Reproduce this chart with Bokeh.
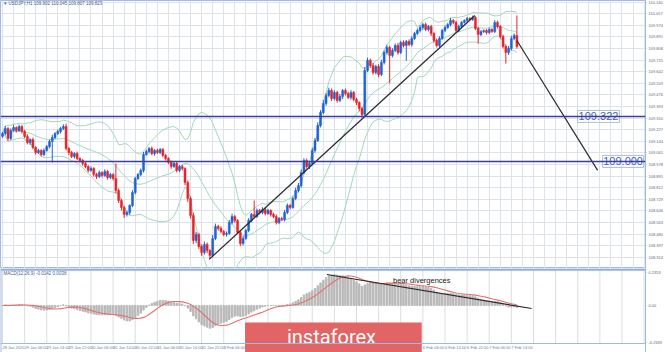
import numpy as np
import pandas as pd
from bokeh.plotting import figure
from bokeh.layouts import column
from bokeh.models import Range1d, FixedTicker, Span, Label, NumeralTickFormatter, ColumnDataSource
from bokeh.core.properties import value
from bokeh.embed import file_html
from bokeh.resources import INLINE

# ---------------- data (USDJPY, H1) ----------------
first_open = 109.180
closes = [
    109.200, 109.236, 109.165, 109.222, 109.243, 109.222, 109.250, 109.215, 109.179, 109.136,
    109.157, 109.100, 109.064, 109.079, 109.050, 109.079, 109.107, 109.143, 109.172, 109.200,
    109.215, 109.236, 109.250, 109.093, 109.064, 109.036, 109.057, 109.021, 109.007, 108.986,
    108.964, 108.936, 108.950, 108.907, 108.893, 108.921, 108.900, 108.928, 108.886, 108.907,
    108.878, 108.792, 108.721, 108.671, 108.621, 108.635, 108.685, 108.778, 108.878, 108.907,
    108.936, 109.050, 109.072, 109.093, 109.057, 109.079, 109.064, 109.086, 109.043, 109.021,
    108.993, 108.964, 108.986, 108.936, 108.964, 108.950, 108.850, 108.735, 108.614, 108.435,
    108.478, 108.392, 108.349, 108.406, 108.363, 108.327, 108.449, 108.535, 108.521, 108.499,
    108.478, 108.485, 108.563, 108.606, 108.578, 108.492, 108.413, 108.449, 108.506, 108.578,
    108.621, 108.606, 108.649, 108.635, 108.657, 108.628, 108.649, 108.621, 108.606, 108.563,
    108.592, 108.585, 108.635, 108.685, 108.671, 108.735, 108.792, 108.828, 108.921, 109.007,
    108.964, 108.986, 109.079, 109.150, 109.258, 109.351, 109.415, 109.472, 109.508, 109.451,
    109.494, 109.437, 109.465, 109.508, 109.487, 109.458, 109.494, 109.444, 109.422, 109.379,
    109.336, 109.651, 109.723, 109.687, 109.637, 109.680, 109.623, 109.708, 109.780, 109.816,
    109.759, 109.794, 109.830, 109.780, 109.852, 109.830, 109.859, 109.837, 109.880, 109.916,
    109.937, 109.959, 109.980, 109.945, 109.966, 109.916, 109.866, 109.830, 109.880, 109.937,
    109.959, 109.980, 110.009, 109.995, 109.937, 109.966, 109.995, 110.009, 110.023, 110.016,
    110.030, 109.952, 109.909, 109.930, 109.937, 109.923, 109.945, 109.930, 109.995, 109.966,
    109.895, 109.823, 109.780, 109.809, 109.880, 109.902, 109.823,
]
# wick lengths in thousandths of a yen
wick_up = [
    12, 18, 10, 15, 20, 8, 14, 10, 12, 16,
    9, 14, 10, 12, 8, 15, 11, 13, 18, 10,
    14, 12, 16, 21, 10, 12, 9, 14, 8, 11,
    13, 9, 15, 10, 12, 14, 8, 16, 10, 12,
    9, 108, 15, 12, 10, 14, 8, 16, 12, 10,
    14, 18, 12, 10, 15, 9, 13, 11, 10, 12,
    9, 14, 11, 15, 10, 12, 8, 14, 16, 20,
    18, 12, 15, 22, 14, 10, 25, 20, 12, 15,
    10, 14, 18, 20, 12, 9, 14, 18, 12, 16,
    10, 100, 14, 12, 16, 10, 13, 9, 12, 15,
    10, 12, 18, 14, 10, 15, 20, 18, 22, 16,
    14, 12, 20, 18, 22, 16, 25, 18, 20, 14,
    16, 12, 18, 10, 14, 12, 16, 10, 12, 9,
    12, 25, 20, 14, 18, 12, 16, 20, 15, 18,
    12, 16, 14, 18, 12, 15, 10, 14, 16, 12,
    15, 18, 12, 14, 10, 12, 9, 14, 16, 12,
    15, 12, 18, 10, 12, 14, 10, 8, 12, 10,
    14, 10, 12, 9, 8, 10, 12, 9, 16, 12,
    10, 12, 15, 18, 20, 14, 143,
]
wick_dn = [
    10, 14, 18, 12, 9, 15, 11, 16, 12, 14,
    18, 12, 15, 10, 14, 12, 9, 13, 150, 12,
    10, 15, 12, 14, 18, 12, 15, 10, 14, 16,
    12, 14, 10, 15, 18, 12, 14, 10, 16, 12,
    14, 20, 18, 22, 25, 15, 18, 12, 14, 10,
    12, 15, 10, 14, 12, 16, 10, 12, 14, 15,
    12, 16, 10, 14, 12, 15, 20, 24, 22, 25,
    20, 18, 24, 16, 20, 22, 14, 12, 16, 14,
    12, 15, 10, 14, 16, 12, 18, 14, 10, 12,
    14, 12, 10, 15, 12, 14, 10, 16, 12, 14,
    12, 10, 14, 12, 15, 10, 12, 14, 16, 12,
    14, 18, 12, 16, 10, 14, 12, 16, 12, 18,
    14, 16, 12, 18, 14, 12, 16, 14, 18, 20,
    22, 14, 12, 18, 16, 14, 20, 12, 14, 16,
    200, 14, 12, 16, 12, 14, 110, 12, 14, 10,
    12, 14, 16, 12, 14, 18, 16, 14, 12, 10,
    12, 10, 14, 12, 16, 10, 12, 8, 10, 9,
    10, 12, 65, 12, 10, 14, 12, 10, 12, 14,
    16, 14, 79, 18, 14, 12, 16,
]
date_labels = [
    "28 Jan 2020", "29 Jan 06:00", "29 Jan 14:00", "29 Jan 22:00", "30 Jan 06:00",
    "30 Jan 14:00", "30 Jan 22:00", "31 Jan 06:00", "31 Jan 14:00", "31 Jan 22:00",
    "3 Feb 06:00", "3 Feb 14:00", "3 Feb 22:00", "4 Feb 06:00", "4 Feb 14:00",
    "4 Feb 22:00", "5 Feb 06:00", "5 Feb 14:00", "5 Feb 22:00", "6 Feb 06:00",
    "6 Feb 14:00", "6 Feb 22:00", "7 Feb 06:00", "7 Feb 14:00",
]
date_label_bars = list(range(0, 8 * len(date_labels), 8))
price_ticks = [
    110.140, 110.057, 109.974, 109.891, 109.808, 109.725, 109.642, 109.559, 109.476,
    109.393, 109.310, 109.227, 109.144, 109.061, 108.978, 108.895, 108.812, 108.729,
    108.646, 108.563, 108.480, 108.397, 108.314,
]
level_1 = 109.322
level_2 = 109.000
trend_x = [74.7, 170.8]
trend_y = [108.299, 110.045]
proj_x = [186.0, 215.2]
proj_y = [109.866, 108.936]

# ---------------- derived series ----------------
n = len(closes)
idx = np.arange(n)
c = np.array(closes)
o = np.concatenate([[first_open], c[:-1]])
hi = np.maximum(o, c) + np.array(wick_up) / 1000.0
lo = np.minimum(o, c) - np.array(wick_dn) / 1000.0
BLUE, RED = "#1f63d3", "#e4252b"
colors = [BLUE if cc >= oo else RED for oo, cc in zip(o, c)]
src = ColumnDataSource(dict(x=idx, o=o, c=c, hi=hi, lo=lo, top=np.maximum(o, c),
                            bot=np.minimum(o, c), col=colors))

s = pd.Series(c)
bb_mid = s.rolling(20, min_periods=1).mean()
bb_sd = s.rolling(20, min_periods=1).std(ddof=0)
bb_up = bb_mid + 2 * bb_sd
bb_lo = bb_mid - 2 * bb_sd

macd = s.ewm(span=12, adjust=False).mean() - s.ewm(span=26, adjust=False).mean()
signal = macd.rolling(9, min_periods=1).mean()
k = max(macd.max() / 31.0, -macd.min() / 38.0)  # MACD units per pixel

# ---------------- main panel ----------------
xr = Range1d(-0.72, 232.5)
FONT = "Liberation Sans"
GRID = "#dde3ec"
p1 = figure(width=665, height=268, x_range=xr, y_range=Range1d(108.234, 110.152),
            output_backend="svg", toolbar_location=None, y_axis_location="right",
            min_border_left=0, min_border_right=19, min_border_top=0, min_border_bottom=0)
p1.outline_line_color = "#9dbbe0"
p1.xaxis.visible = False
p1.xgrid.ticker = FixedTicker(ticks=list(range(0, 236, 4)))
p1.xgrid.grid_line_color = GRID
p1.ygrid.grid_line_color = GRID
ya = p1.yaxis[0]
ya.ticker = FixedTicker(ticks=price_ticks)
ya.formatter = NumeralTickFormatter(format="0.000")
ya.major_label_text_font_size = "4px"
ya.major_label_text_font = FONT
ya.major_label_text_color = "#5a6a84"
ya.axis_line_color = "#9dbbe0"
ya.major_tick_line_color = "#9dbbe0"
ya.major_tick_out = 1
ya.major_tick_in = 0
ya.minor_tick_line_color = None
ya.major_label_standoff = 2

BB = "#a3d7b6"
p1.line(idx, bb_up, color=BB, line_width=1)
p1.line(idx, bb_mid, color=BB, line_width=1)
p1.line(idx, bb_lo, color=BB, line_width=1)

for lv in (level_1, level_2):
    p1.add_layout(Span(location=lv, dimension="width", line_color="#3b3f96", line_width=1.5))

p1.segment("x", "hi", "x", "lo", source=src, color="col", line_width=1)
p1.vbar(x="x", width=0.72, top="top", bottom="bot", source=src, fill_color="col", line_color="col", line_width=0.5)

p1.line(trend_x, trend_y, color="#2a2a2a", line_width=1.2)
p1.line(proj_x, proj_y, color="#2a2a2a", line_width=1.2)

# callout boxes
p1.quad(left=[207.9, 217.0], right=[223.1, 231.8], top=[109.365, 109.043], bottom=[109.279, 108.957],
        fill_alpha=0, line_color="#b4bfd2", line_width=1)
p1.text(x=[215.5, 224.4], y=[level_1, level_2], text=["109.322", "109.000"],
        text_font=value(FONT), text_font_size="11px", text_color="#3f5fc6",
        text_align="center", text_baseline="middle")

info = f"\u25be USDJPY,H1  {o[-1]:.3f} {hi[-1]:.3f} {lo[-1]:.3f} {c[-1]:.3f}"
p1.text(x=[0.6], y=[110.131], text=[info], text_font=value(FONT), text_font_size="4.5px",
        text_color="#4d5d78", text_align="left", text_baseline="middle")

for val, col in ((c[-1], "#2d63bf"), (level_1, "#262d73"), (level_2, "#262d73")):
    p1.add_layout(Label(x=232.5, y=val, x_offset=1, text=f"{val:.3f}", text_font_size="4px",
                        text_font=FONT, text_color="white", background_fill_color=col,
                        text_baseline="middle"))

# ---------------- MACD panel ----------------
p2 = figure(width=665, height=84, x_range=xr, y_range=Range1d(-47 * k, 37 * k),
            output_backend="svg", toolbar_location=None, y_axis_location="right",
            min_border_left=0, min_border_right=19, min_border_top=0, min_border_bottom=0)
p2.outline_line_color = None
p2.xaxis.visible = False
p2.xgrid.visible = False
p2.ygrid.visible = False
grid_bars = list(range(0, 236, 8))
p2.segment(x0=grid_bars, y0=[-38 * k] * len(grid_bars), x1=grid_bars, y1=[36 * k] * len(grid_bars),
           color="#dedede", line_width=1)
ya2 = p2.yaxis[0]
ya2.ticker = FixedTicker(ticks=[33 * k, 0.0, -37 * k])
ya2.formatter = NumeralTickFormatter(format="0.0000")
ya2.major_label_overrides = {0: "0.00"}
ya2.major_label_text_font_size = "4px"
ya2.major_label_text_font = FONT
ya2.major_label_text_color = "#5a6a84"
ya2.axis_line_color = "#9dbbe0"
ya2.major_tick_line_color = "#9dbbe0"
ya2.major_tick_out = 1
ya2.major_tick_in = 0
ya2.minor_tick_line_color = None
ya2.major_label_standoff = 2

p2.add_layout(Span(location=36 * k, dimension="width", line_color="#8fb1da", line_width=2.5))
p2.add_layout(Span(location=-38 * k, dimension="width", line_color="#9dbbe0", line_width=1))
p2.add_layout(Span(location=-0.72, dimension="height", line_color="#9dbbe0", line_width=2))

p2.vbar(x=idx, width=0.5, top=macd.values, bottom=0, color="#b8b8b8")
p2.line(idx, signal.values, color="#e56f6f", line_width=1.1)

p2.line([117.3, 191.3], [31 * k, -3 * k], color="#2a2a2a", line_width=1.2)
p2.text(x=[141.2], y=[25 * k], text=["bear divergences"], text_font=value(FONT),
        text_font_size="7.5px", text_color="#222222", text_align="left", text_baseline="middle")
p2.text(x=[0.4], y=[32 * k], text=[f"MACD(12,26,9) {macd.iloc[-1]:.4f} {signal.iloc[-1]:.4f}"],
        text_font=value(FONT), text_font_size="4.5px", text_color="#4d5d78",
        text_align="left", text_baseline="middle")
p2.text(x=date_label_bars, y=[-42 * k] * len(date_labels), text=date_labels,
        text_font=value(FONT), text_font_size="4px", text_color="#6b7fa0",
        text_align="left", text_baseline="middle")

# logo
p2.quad(left=[87.7], right=[151.6], top=[-17 * k], bottom=[-52 * k], fill_color="#e36464", line_color=None)
p2.text(x=[118.95], y=[-31 * k], text=["instaforex"], text_font=value("Roboto"),
        text_font_size="20px", text_color="white", text_align="center", text_baseline="middle")

layout = column(p1, p2, spacing=0)
open("out.html", "w").write(file_html(layout, INLINE))
